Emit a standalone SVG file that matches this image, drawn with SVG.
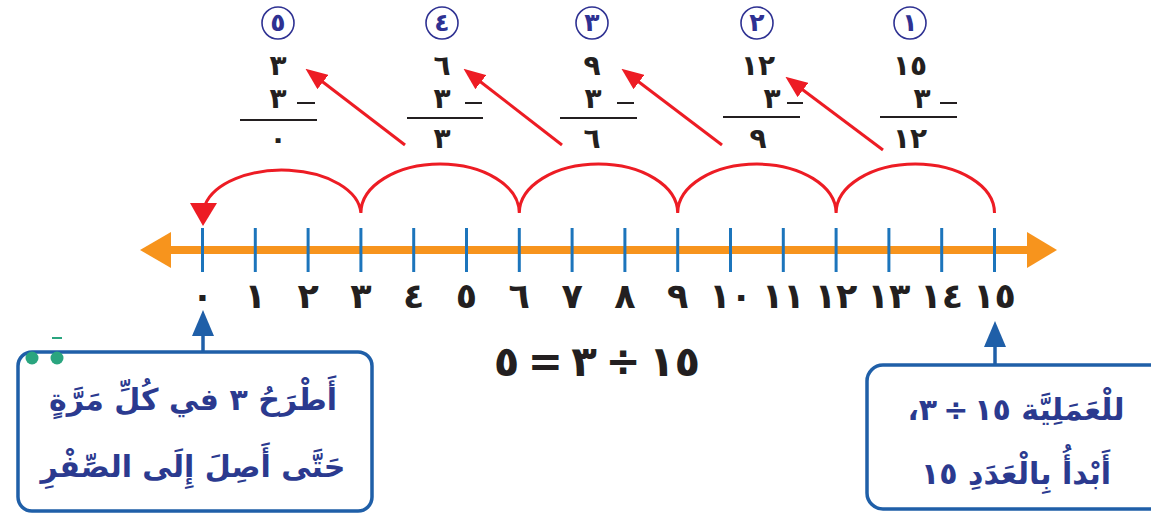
<svg xmlns="http://www.w3.org/2000/svg" width="1151" height="516" viewBox="0 0 1151 516">
<style>
.num{font-family:"DejaVu Sans",sans-serif;font-weight:bold;font-size:35px;fill:#231f20;text-anchor:middle}
.col{font-family:"DejaVu Sans",sans-serif;font-weight:bold;font-size:28px;fill:#231f20;text-anchor:middle}
.eq{font-family:"DejaVu Sans",sans-serif;font-weight:bold;font-size:42px;fill:#231f20;text-anchor:middle;direction:rtl;unicode-bidi:embed}
.circ{fill:#fff;stroke:#2e3192;stroke-width:1.6}
.cnum{font-family:"DejaVu Sans",sans-serif;font-weight:bold;font-size:25px;fill:#2e3192;text-anchor:middle}
.minus{stroke:#231f20;stroke-width:2}
.bar{stroke:#231f20;stroke-width:2}
.tick{stroke:#1c75bc;stroke-width:3}
.red{stroke:#ed1c24;stroke-width:3;fill:none}
.box{fill:#fff;stroke:#1f5fa8;stroke-width:3.5}
.btxt{font-family:"DejaVu Sans",sans-serif;font-weight:bold;font-size:30px;fill:#2b3a8f;text-anchor:middle;direction:rtl;unicode-bidi:embed}
.blue{stroke:#1f5fa8;stroke-width:3.5}
</style>
<defs>
<marker id="rh" markerUnits="userSpaceOnUse" markerWidth="22" markerHeight="18" viewBox="0 0 22 18" refX="10" refY="9" orient="auto">
<path d="M0,0 L22,9 L0,18 z" fill="#ed1c24"/>
</marker>
</defs>

<g id="steps">
<g id="step5">
<circle class="circ" cx="278" cy="23" r="16"/><text class="cnum" x="278" y="31">٥</text>
<text class="col" x="278" y="75">٣</text>
<text class="col" x="278" y="108">٣</text><line class="minus" x1="297" y1="103" x2="315" y2="103"/>
<line class="bar" x1="240" y1="120" x2="317" y2="120"/>
<text class="col" x="278" y="148">٠</text>
</g>
<g id="step4">
<circle class="circ" cx="442" cy="23" r="16"/><text class="cnum" x="442" y="31">٤</text>
<text class="col" x="442" y="75">٦</text>
<text class="col" x="442" y="108">٣</text><line class="minus" x1="465" y1="103" x2="482" y2="103"/>
<line class="bar" x1="407" y1="118" x2="483" y2="118"/>
<text class="col" x="442" y="148">٣</text>
</g>
<g id="step3">
<circle class="circ" cx="592" cy="23" r="16"/><text class="cnum" x="592" y="31">٣</text>
<text class="col" x="592" y="75">٩</text>
<text class="col" x="593" y="108">٣</text><line class="minus" x1="617" y1="103" x2="634" y2="103"/>
<line class="bar" x1="560" y1="118" x2="637" y2="118"/>
<text class="col" x="592" y="148">٦</text>
</g>
<g id="step2">
<circle class="circ" cx="757" cy="23" r="16"/><text class="cnum" x="757" y="31">٢</text>
<text class="col" x="758" y="75">١٢</text>
<text class="col" x="772" y="108">٣</text><line class="minus" x1="787" y1="103" x2="803" y2="103"/>
<line class="bar" x1="723" y1="117" x2="800" y2="117"/>
<text class="col" x="758" y="148">٩</text>
</g>
<g id="step1">
<circle class="circ" cx="910" cy="23" r="16"/><text class="cnum" x="910" y="31">١</text>
<text class="col" x="910" y="75">١٥</text>
<text class="col" x="922" y="108">٣</text><line class="minus" x1="940" y1="103" x2="957" y2="103"/>
<line class="bar" x1="880" y1="117" x2="957" y2="117"/>
<text class="col" x="910" y="148">١٢</text>
</g>
</g>

<g id="numberline">
<line x1="165" y1="250" x2="1032" y2="250" stroke="#f7941d" stroke-width="8"/>
<polygon points="140,250 171,232 171,268" fill="#f7941d"/>
<polygon points="1057,250 1027,232 1027,268" fill="#f7941d"/>
<line class="tick" x1="202.5" y1="228" x2="202.5" y2="272"/>
<line class="tick" x1="255.3" y1="228" x2="255.3" y2="272"/>
<line class="tick" x1="308.1" y1="228" x2="308.1" y2="272"/>
<line class="tick" x1="360.9" y1="228" x2="360.9" y2="272"/>
<line class="tick" x1="413.7" y1="228" x2="413.7" y2="272"/>
<line class="tick" x1="466.5" y1="228" x2="466.5" y2="272"/>
<line class="tick" x1="519.3" y1="228" x2="519.3" y2="272"/>
<line class="tick" x1="572.1" y1="228" x2="572.1" y2="272"/>
<line class="tick" x1="624.9" y1="228" x2="624.9" y2="272"/>
<line class="tick" x1="677.7" y1="228" x2="677.7" y2="272"/>
<line class="tick" x1="730.5" y1="228" x2="730.5" y2="272"/>
<line class="tick" x1="783.3" y1="228" x2="783.3" y2="272"/>
<line class="tick" x1="836.1" y1="228" x2="836.1" y2="272"/>
<line class="tick" x1="888.9" y1="228" x2="888.9" y2="272"/>
<line class="tick" x1="941.7" y1="228" x2="941.7" y2="272"/>
<line class="tick" x1="994.5" y1="228" x2="994.5" y2="272"/>
<text class="num" x="202.5" y="308">٠</text>
<text class="num" x="255.3" y="308">١</text>
<text class="num" x="308.1" y="308">٢</text>
<text class="num" x="360.9" y="308">٣</text>
<text class="num" x="413.7" y="308">٤</text>
<text class="num" x="466.5" y="308">٥</text>
<text class="num" x="519.3" y="308">٦</text>
<text class="num" x="572.1" y="308">٧</text>
<text class="num" x="624.9" y="308">٨</text>
<text class="num" x="677.7" y="308">٩</text>
<text class="num" x="730.5" y="308">١٠</text>
<text class="num" x="783.3" y="308">١١</text>
<text class="num" x="836.1" y="308">١٢</text>
<text class="num" x="888.9" y="308">١٣</text>
<text class="num" x="941.7" y="308">١٤</text>
<text class="num" x="994.5" y="308">١٥</text>
</g>

<text class="eq" x="597" y="376">١٥&#8201;÷&#8201;٣&#8201;=&#8201;٥</text>

<g id="connectors">
<path class="red" d="M994.5,213 A79.2,49 0 0 0 836.1,213 A79.2,49 0 0 0 677.7,213 A79.2,49 0 0 0 519.3,213 A79.2,49 0 0 0 360.9,213 A79,45 0 0 0 205,205"/>
<polygon points="190,203 217,203 203,226" fill="#ed1c24"/>
<line class="red" x1="883" y1="150" x2="795" y2="84" marker-end="url(#rh)"/>
<line class="red" x1="722" y1="145" x2="631" y2="76" marker-end="url(#rh)"/>
<line class="red" x1="562" y1="145" x2="473" y2="76" marker-end="url(#rh)"/>
<line class="red" x1="405" y1="145" x2="315" y2="76" marker-end="url(#rh)"/>
<line class="blue" x1="203" y1="352" x2="203" y2="332"/>
<polygon points="203,310 192,336 214,336" fill="#1f5fa8"/>
<line class="blue" x1="995" y1="365" x2="995" y2="342"/>
<polygon points="995,321 984,347 1006,347" fill="#1f5fa8"/>
</g>

<g id="leftbox">
<rect class="box" x="18" y="352" width="354" height="159" rx="14"/>
<circle cx="32" cy="358" r="6.5" fill="#2aa57f"/>
<circle cx="57" cy="358" r="6.5" fill="#2aa57f"/>
<line x1="52" y1="338" x2="62" y2="338" stroke="#2aa57f" stroke-width="2"/>
<text class="btxt" x="193" y="410">أَطْرَحُ ٣ في كُلِّ مَرَّةٍ</text>
<text class="btxt" x="193" y="477">حَتَّى أَصِلَ إِلَى الصِّفْرِ</text>
</g>

<g id="rightbox">
<rect class="box" x="867" y="365" width="300" height="144" rx="16"/>
<text class="btxt" x="1016" y="420">للْعَمَلِيَّة ١٥&#8201;÷&#8201;٣،</text>
<text class="btxt" x="1016" y="484">أَبْدأُ بِالْعَدَدِ ١٥</text>
</g>
</svg>
